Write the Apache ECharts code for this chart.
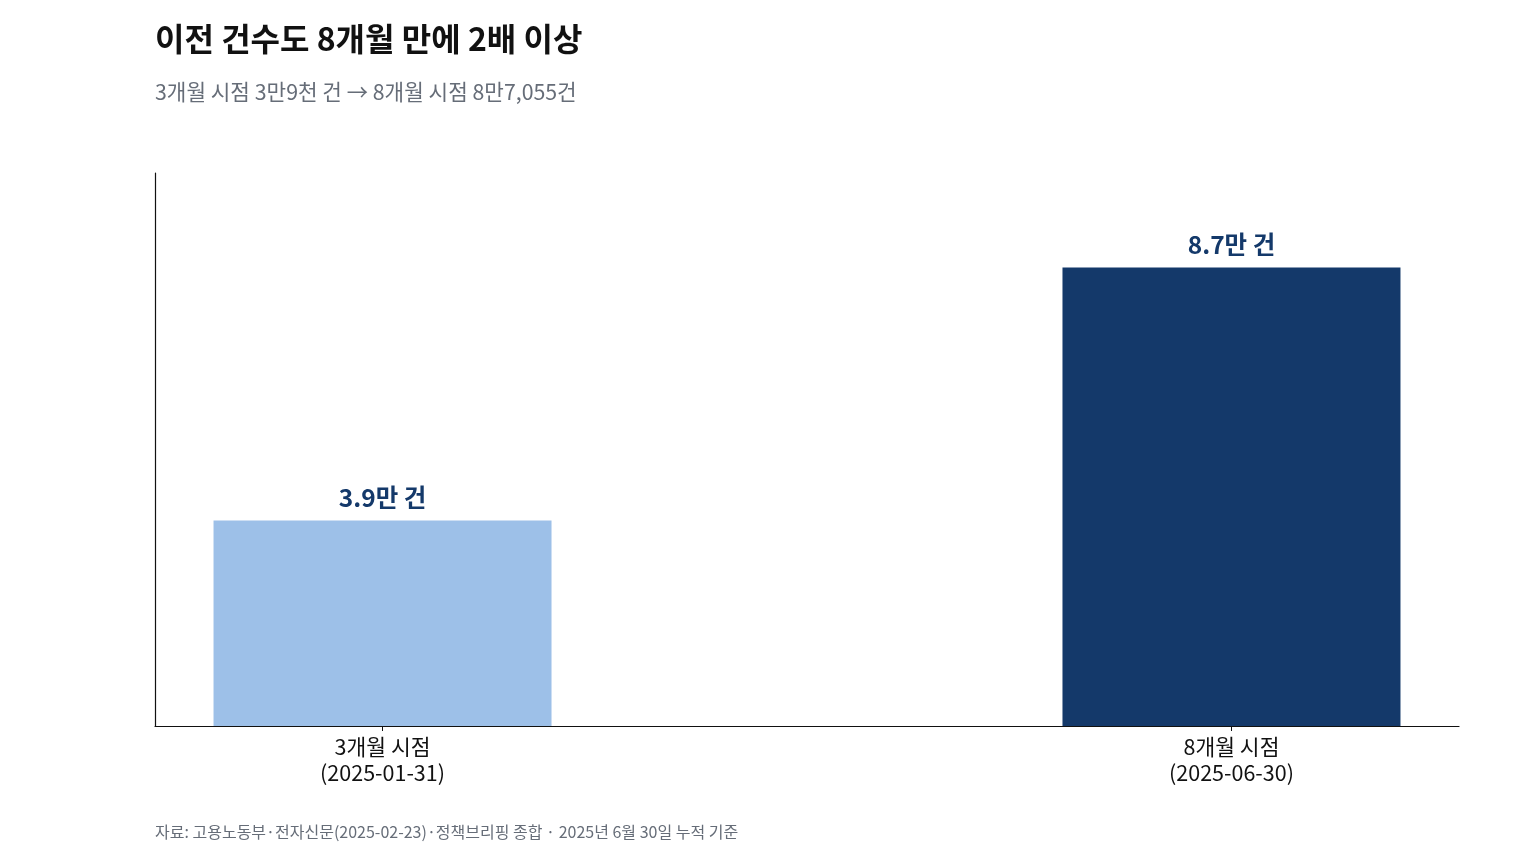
<!DOCTYPE html>
<html style="height: 100%">
<head>
   <meta charset="utf-8">
</head>
<style>
    body, html, #chart {
        width: 100%;
        height: 100%;
        margin: 0;
    }
</style>
<title>이전 건수</title>
<script src="https://cdn.jsdelivr.net/npm/echarts@6/dist/echarts.min.js"></script>
<body>
   <div id="chart"></div>
   <script type="text/javascript">
    // 데이터
    var categories = ['3개월 시점\n(2025-01-31)', '8개월 시점\n(2025-06-30)'];
    var counts = [39000, 87055];
    var barLabels = ['3.9만 건', '8.7만 건'];
    var barColors = ['#9dc0e8', '#14396a'];

    var font = '"Noto Sans CJK KR", "Noto Sans", sans-serif';
    var myChart = echarts.init(document.getElementById('chart'));

    var option = {
        backgroundColor: '#ffffff',
        textStyle: { fontFamily: font },
        title: [{
            text: '이전 건수도 8개월 만에 2배 이상',
            left: 150, top: 18,
            textStyle: { fontSize: 32, fontWeight: 'bold', color: '#111111', fontFamily: font }
        }, {
            text: '3개월 시점 3만9천 건 → 8개월 시점 8만7,055건',
            left: 150, top: 76,
            textStyle: { fontSize: 21.3, fontWeight: 'normal', color: '#666d78', fontFamily: font }
        }, {
            text: '자료: 고용노동부·전자신문(2025-02-23)·정책브리핑 종합 · 2025년 6월 30일 누적 기준',
            left: 150, top: 819,
            textStyle: { fontSize: 16, fontWeight: 'normal', color: '#666d78', fontFamily: font }
        }],
        grid: { left: 155, right: 77, top: 173, bottom: 138 },
        xAxis: {
            type: 'value',
            min: -0.268, max: 1.268,
            splitLine: { show: false },
            axisLine: { lineStyle: { color: '#111111', width: 1.2 } },
            axisTick: { show: true, customValues: [0, 1], length: 5, lineStyle: { color: '#111111' } },
            axisLabel: {
                customValues: [0, 1],
                formatter: function (v) { return categories[Math.round(v)]; },
                fontSize: 21.5, color: '#111111', lineHeight: 26, margin: 8, fontFamily: font
            }
        },
        yAxis: {
            type: 'value',
            min: 0, max: 105000,
            splitLine: { show: false },
            axisLine: { show: true, onZero: false, lineStyle: { color: '#111111', width: 1.2 } },
            axisTick: { show: false },
            axisLabel: { show: false }
        },
        series: [{
            type: 'bar',
            barWidth: 338,
            data: counts.map(function (v, i) {
                return { value: [i, v], itemStyle: { color: barColors[i] } };
            }),
            label: {
                show: true, position: 'top', distance: 11,
                formatter: function (p) { return barLabels[p.dataIndex]; },
                fontSize: 24.5, fontWeight: 'bold', color: '#14396a', fontFamily: font
            }
        }]
    };
    myChart.setOption(option);
   </script>
</body>
</html>
